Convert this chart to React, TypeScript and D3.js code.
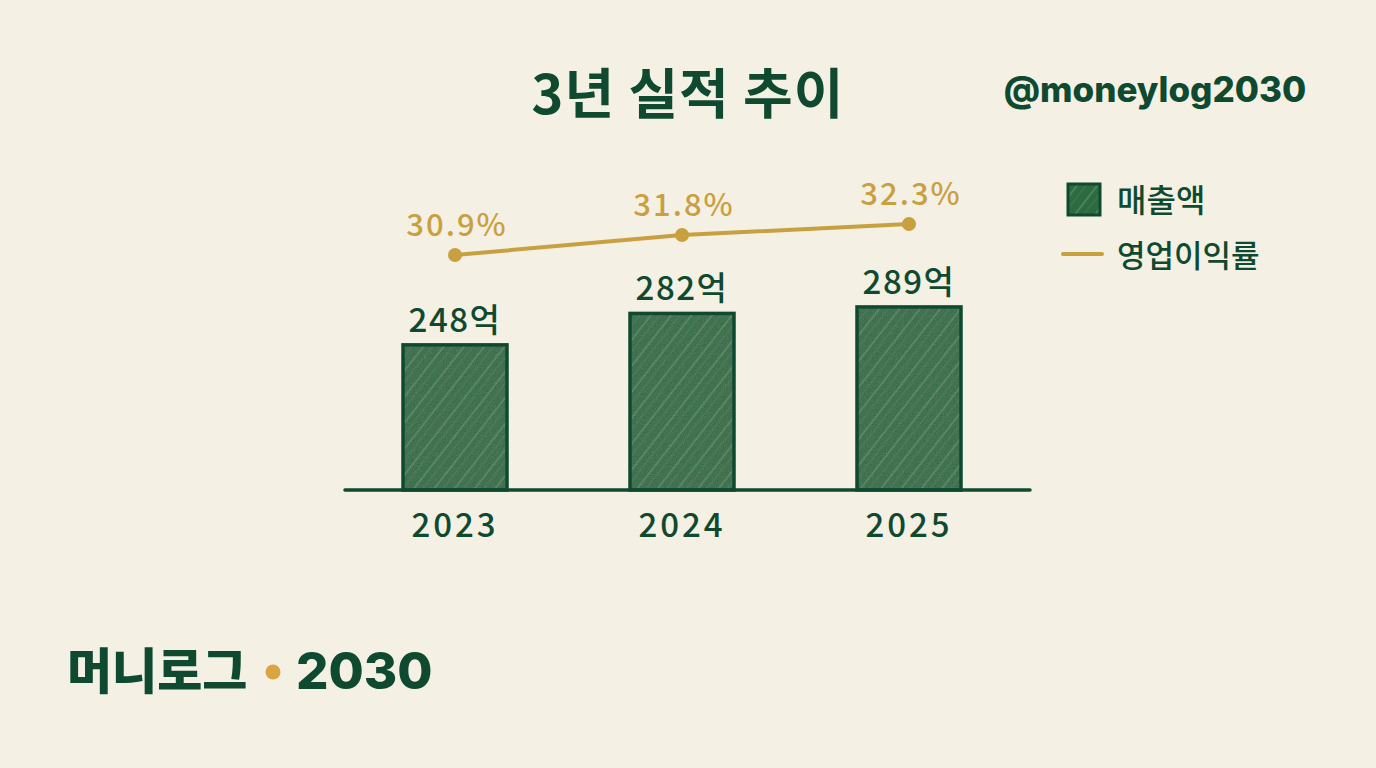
import React from "react";
import * as d3 from "d3";

const years = ["2023", "2024", "2025"];
const sales = [248, 282, 289];
const salesLabels = ["248억", "282억", "289억"];
const margins = [30.9, 31.8, 32.3];
const marginLabels = ["30.9%", "31.8%", "32.3%"];
const legendItems = ["매출액", "영업이익률"];

const W = 1376;
const H = 768;
const BG = "#f5f0e4";
const DARK = "#0f4a30";
const BAR = "#2c6a40";
const GOLD = "#c9a040";
const FONT = "'Noto Sans CJK KR', 'Noto Sans', sans-serif";

export default function App() {
  const x = d3.scalePoint<string>().domain(years).range([455, 909]);
  const y = d3.scaleLinear().domain([90, 290]).range([491, 306]);
  const yLine = d3.scaleLinear().domain([29, 33]).range([297.2, 208.4]);
  const barW = 104;
  const base = 490;
  const line = d3
    .line<number>()
    .x((_, i) => x(years[i]) as number)
    .y((d) => yLine(d));

  return (
    <svg width={W} height={H} style={{ display: "block", position: "absolute", left: 0, top: 0 }}>
      <defs>
        <pattern id="hatch" width="16" height="16" patternUnits="userSpaceOnUse" patternTransform="rotate(-52)">
          <rect width="16" height="16" fill={BAR} />
          <line x1="0" y1="3" x2="16" y2="3" stroke="#cfe0cc" strokeOpacity="0.3" strokeWidth="1.3" />
          <line x1="0" y1="10" x2="16" y2="10" stroke="#9dbb9f" strokeOpacity="0.2" strokeWidth="1" />
        </pattern>
        <filter id="grain" x="0" y="0" width="100%" height="100%">
          <feTurbulence type="fractalNoise" baseFrequency="0.9" numOctaves="2" result="n" />
          <feColorMatrix type="saturate" values="0" in="n" result="g" />
          <feComponentTransfer in="g" result="g2">
            <feFuncA type="table" tableValues="0 0.14" />
          </feComponentTransfer>
          <feComposite in="g2" in2="SourceGraphic" operator="in" result="m" />
          <feMerge>
            <feMergeNode in="SourceGraphic" />
            <feMergeNode in="m" />
          </feMerge>
        </filter>
      </defs>
      <rect width={W} height={H} fill={BG} />

      <text x={688} y={114} textAnchor="middle" fontFamily={FONT} fontWeight={700} fontSize={54} fill={DARK} letterSpacing={1}>
        3년 실적 추이
      </text>
      <text x={1155} y={102} textAnchor="middle" fontFamily="Inter, 'Noto Sans', sans-serif" fontWeight={800} fontSize={35} fill={DARK}>
        @moneylog2030
      </text>

      {/* bars */}
      {sales.map((v, i) => {
        const cx = x(years[i]) as number;
        return (
          <g key={years[i]}>
            <rect
              x={cx - barW / 2}
              y={y(v)}
              width={barW}
              height={base - y(v)}
              fill="url(#hatch)"
              filter="url(#grain)"
            />
            <rect
              x={cx - barW / 2}
              y={y(v)}
              width={barW}
              height={base - y(v)}
              fill="none"
              stroke={DARK}
              strokeWidth={3.5}
            />
            <text x={cx} y={y(v) - 13} textAnchor="middle" fontFamily={FONT} fontWeight={500} fontSize={33} letterSpacing={1.5} fill={DARK}>
              {salesLabels[i]}
            </text>
            <text x={cx} y={537} textAnchor="middle" fontFamily={FONT} fontWeight={500} fontSize={33} letterSpacing={3} fill={DARK}>
              {years[i]}
            </text>
          </g>
        );
      })}

      {/* baseline */}
      <line x1={345} x2={1030} y1={base} y2={base} stroke={DARK} strokeWidth={3.5} strokeLinecap="round" />

      {/* margin line */}
      <path d={line(margins) || ""} fill="none" stroke={GOLD} strokeWidth={4} strokeLinecap="round" />
      {margins.map((m, i) => {
        const cx = x(years[i]) as number;
        return (
          <g key={"m" + i}>
            <circle cx={cx} cy={yLine(m)} r={7} fill={GOLD} />
            <text x={cx + 2} y={yLine(m) - 19} textAnchor="middle" fontFamily={FONT} fontWeight={500} fontSize={31} letterSpacing={2} fill={GOLD}>
              {marginLabels[i]}
            </text>
          </g>
        );
      })}

      {/* legend */}
      <rect x={1068} y={184} width={32} height={31} fill="url(#hatch)" stroke={DARK} strokeWidth={3} />
      <text x={1117} y={212} fontFamily={FONT} fontWeight={500} fontSize={32} fill={DARK}>
        {legendItems[0]}
      </text>
      <line x1={1063} x2={1102} y1={254} y2={254} stroke={GOLD} strokeWidth={4} strokeLinecap="round" />
      <text x={1117} y={267} fontFamily={FONT} fontWeight={500} fontSize={31} fill={DARK}>
        {legendItems[1]}
      </text>

      {/* footer */}
      <text x={67} y={689} fontFamily={FONT} fontWeight={900} fontSize={49} fill={DARK}>
        머니로그
      </text>
      <circle cx={273} cy={672} r={7.5} fill="#d9a441" />
      <text x={296} y={689} fontFamily="Inter, 'Noto Sans', sans-serif" fontWeight={800} fontSize={51} fill={DARK}>
        2030
      </text>
    </svg>
  );
}
